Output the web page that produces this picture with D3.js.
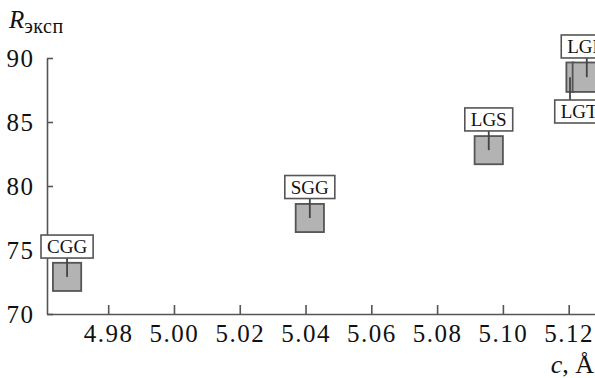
<!DOCTYPE html>
<html>
<head>
<meta charset="utf-8">
<script src="https://cdn.jsdelivr.net/npm/d3@7"></script>
<style>
  body { margin: 0; background: #fff; }
  svg { display: block; font-family: "Liberation Serif", "Times New Roman", serif; }
</style>
</head>
<body>
<svg id="chart"></svg>
<script>
// R_эксп против параметра решётки c

const svg_w = 595;
const svg_h = 378;
const serif = "'Liberation Serif', 'Times New Roman', serif";

// данные
const names = ["CGG", "SGG", "LGS", "LGT", "LGN"];
const c_vals = [4.9675, 5.0413, 5.0957, 5.1204, 5.1255];   // c, Å
const r_vals = [72.9, 77.5, 82.8, 88.5, 88.5];             // R_эксп
const dc_vals = [0.0043, 0.0043, 0.0043, 0.0011, 0.0043];  // полуширина квадрата, Å
const dr_vals = [1.1, 1.1, 1.1, 1.15, 1.15];               // полувысота квадрата
const label_c = [4.9675, 5.0413, 5.0957, 5.1232, 5.1255];  // центр подписи, Å
const label_r = [75.27, 79.92, 85.2, 85.82, 90.9];         // центр подписи, R
const x_ticks = [4.98, 5.00, 5.02, 5.04, 5.06, 5.08, 5.10, 5.12];
const y_ticks = [70, 75, 80, 85, 90];

const axis_col = "#555";

let data = names.map((n, i) => ({
  name: n, c: c_vals[i], r: r_vals[i], dc: dc_vals[i], dr: dr_vals[i],
  lc: label_c[i], lr: label_r[i]
}));

let svg = d3.select("#chart")
  .attr("width", svg_w)
  .attr("height", svg_h);

let x_scale = d3.scaleLinear()
  .domain([4.9614, 5.1280])
  .range([47, 595]);

let y_scale = d3.scaleLinear()
  .domain([70, 90])
  .range([314, 58]);

// оси
let gx = svg.append("g")
  .attr("transform", `translate(0,${y_scale(70)})`)
  .call(d3.axisBottom(x_scale).tickValues(x_ticks).tickFormat(d3.format(".2f"))
    .tickSizeInner(-9).tickSizeOuter(0).tickPadding(10));

let gy = svg.append("g")
  .attr("transform", `translate(${x_scale.range()[0]},0)`)
  .call(d3.axisLeft(y_scale).tickValues(y_ticks)
    .tickSizeInner(-6).tickSizeOuter(0).tickPadding(12.5));

[gx, gy].forEach(g => {
  g.attr("font-family", serif).attr("font-size", 25);
  g.selectAll("path, line").attr("stroke", axis_col).attr("stroke-width", 1.6);
  g.selectAll("text").attr("fill", "#111").attr("letter-spacing", 1.5);
});

// точки и подписи
let pts = svg.append("g");
data.forEach(d => {
  let g = pts.append("g");
  let x0 = x_scale(d.c), y0 = y_scale(d.r);
  g.append("rect")
    .attr("x", x_scale(d.c - d.dc))
    .attr("y", y_scale(d.r + d.dr))
    .attr("width", x_scale(d.c + d.dc) - x_scale(d.c - d.dc))
    .attr("height", y_scale(d.r - d.dr) - y_scale(d.r + d.dr))
    .attr("fill", "#b3b3b3")
    .attr("stroke", "#555")
    .attr("stroke-width", 1.8);

  let lx = x_scale(d.lc), ly = y_scale(d.lr);
  let t = g.append("text")
    .attr("x", lx)
    .attr("y", ly)
    .attr("dy", "0.35em")
    .attr("text-anchor", "middle")
    .attr("font-family", serif)
    .attr("font-size", 19)
    .attr("fill", "#111")
    .text(d.name);
  let bw = t.node().getComputedTextLength() + 12;
  let bh = 23;
  let edge = ly < y0 ? ly + bh / 2 : ly - bh / 2;
  g.insert("line", "text")
    .attr("x1", x0).attr("y1", y0)
    .attr("x2", x0).attr("y2", edge)
    .attr("stroke", "#444")
    .attr("stroke-width", 1.8);
  g.insert("rect", "text")
    .attr("x", lx - bw / 2)
    .attr("y", ly - bh / 2)
    .attr("width", bw)
    .attr("height", bh)
    .attr("fill", "#fff")
    .attr("stroke", "#555")
    .attr("stroke-width", 1.6);
});

// подписи осей
let ry = svg.append("text")
  .attr("x", 9)
  .attr("y", 28)
  .attr("font-family", serif)
  .attr("fill", "#111");
ry.append("tspan").attr("font-size", 25).attr("font-style", "italic").text("R");
ry.append("tspan").attr("font-size", 20).attr("dy", 5).attr("letter-spacing", 0.5).text("эксп");

let cx = svg.append("text")
  .attr("x", 594)
  .attr("y", 373)
  .attr("text-anchor", "end")
  .attr("font-family", serif)
  .attr("fill", "#111")
  .attr("font-size", 26);
cx.append("tspan").attr("font-style", "italic").text("c");
cx.append("tspan").text(", Å");
</script>
</body>
</html>
